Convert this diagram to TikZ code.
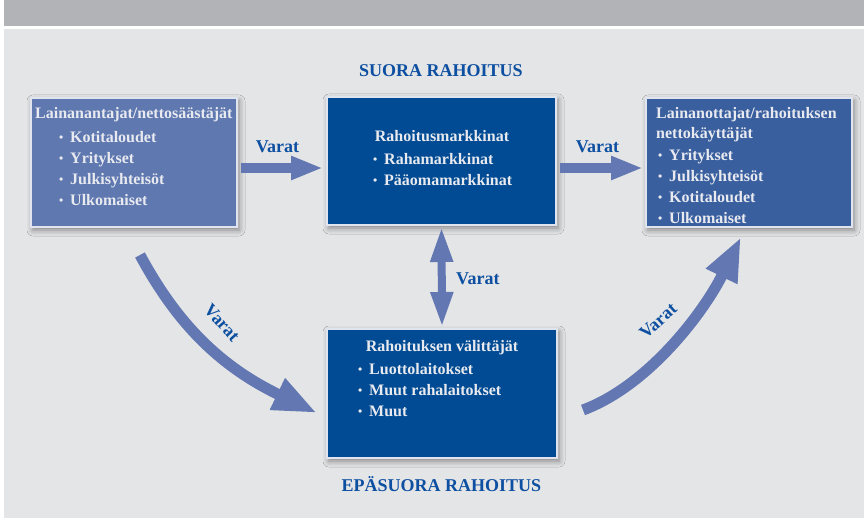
\documentclass[tikz,border=0pt]{standalone}
\usepackage{fontspec}
\setmainfont{Liberation Serif}
\usetikzlibrary{arrows.meta, positioning, shadows.blur}

\definecolor{bandgray}{RGB}{178,179,183}
\definecolor{panelgray}{RGB}{228,229,231}
\definecolor{lendblue}{RGB}{95,120,176}
\definecolor{mktblue}{RGB}{0,75,147}
\definecolor{borrblue}{RGB}{58,95,159}
\definecolor{flowblue}{RGB}{99,120,178}
\definecolor{capblue}{RGB}{13,79,160}
\definecolor{boxtext}{RGB}{232,234,240}

\newcommand{\bul}{\makebox[11pt][l]{\raisebox{1pt}{\fontsize{12}{12}\selectfont\textbullet}}}

\begin{document}
\begin{tikzpicture}[x=1pt, y=-1pt,
            box/.style={draw=white!80!lendblue, line width=1.5pt, inner sep=0pt, outer sep=0pt,
                blur shadow={shadow xshift=2pt, shadow yshift=-3pt, shadow blur radius=6pt, shadow opacity=45}},
            txt/.style={text=boxtext, font=\fontsize{16}{21}\selectfont\bfseries, inner sep=0pt, anchor=base west},
            varat/.style={text=capblue, font=\fontsize{18}{20}\selectfont\bfseries, inner sep=0pt},
            heading/.style={text=capblue, font=\fontsize{18}{20}\selectfont\bfseries, inner sep=0pt, anchor=base},
            flow/.style={draw=flowblue, line width=10pt, -{Triangle[length=32pt, width=22pt]}},
            bigflow/.style={draw=flowblue, line width=11pt, -{Triangle[length=44pt, width=32pt]}},
            dflow/.style={draw=flowblue, line width=8pt,
                {Triangle[length=35pt, width=21pt]}-{Triangle[length=35pt, width=21pt]}}
        ]
            \useasboundingbox (0,0) rectangle (864,518);

            % Background
            \fill[white] (0,0) rectangle (864,518);
            \fill[bandgray] (3.5,0) rectangle (864,26);
            \fill[panelgray] (3.5,29) rectangle (864,518);

            % Boxes
            \node[box, fill=lendblue, minimum width=206pt, minimum height=129pt] (lend) at (134,162.5) {};
            \node[box, fill=mktblue, minimum width=229pt, minimum height=128pt] (mkt) at (441.5,161) {};
            \node[box, fill=borrblue, minimum width=206pt, minimum height=129pt] (borr) at (749,162.5) {};
            \node[box, fill=mktblue, minimum width=230pt, minimum height=129pt] (inter) at (442,393.5) {};

            % Headings
            \node[heading] (direct) at (441,76.5) {SUORA RAHOITUS};
            \node[heading] (indirect) at (441.5,491) {EPÄSUORA RAHOITUS};

            % Lenders
            \node[txt] (lendtitle) at (35,119) {Lainanantajat/nettosäästäjät};
            \foreach \w [count=\i] in {Kotitaloudet, Yritykset, Julkisyhteisöt, Ulkomaiset}
                \node[txt] (lend\i) at (59,{143+21*(\i-1)}) {\bul\w};

            % Markets
            \node[txt, anchor=base] (mkttitle) at (442,142) {Rahoitusmarkkinat};
            \foreach \w [count=\i] in {Rahamarkkinat, Pääomamarkkinat}
                \node[txt] (mkt\i) at (373,{165+21*(\i-1)}) {\bul\w};

            % Borrowers
            \node[txt] (borrtitle) at (656,119) {Lainanottajat/rahoituksen};
            \node[txt] (borrtitleb) at (656,138.5) {nettokäyttäjät};
            \foreach \w [count=\i] in {Yritykset, Julkisyhteisöt, Kotitaloudet, Ulkomaiset}
                \node[txt] (borr\i) at (658,{160.5+21*(\i-1)}) {\bul\w};

            % Intermediaries
            \node[txt, anchor=base] (intertitle) at (442,351) {Rahoituksen välittäjät};
            \foreach \w [count=\i] in {Luottolaitokset, Muut rahalaitokset, Muut}
                \node[txt] (inter\i) at (358,{374+21*(\i-1)}) {\bul\w};

            % Flows
            \draw[flow] ([shift={(4pt,-5.5pt)}]lend.east) -- ([shift={(-4pt,-7pt)}]mkt.west);
            \draw[flow] ([shift={(4pt,-7pt)}]mkt.east) -- ([shift={(-3pt,-5.5pt)}]borr.west);
            \draw[dflow] ([yshift=-2pt]mkt.south) -- ([yshift=2pt]inter.north);
            \draw[bigflow] ([shift={(6pt,-28pt)}]lend.south) .. controls +(35,65) and +(-100,-48) .. ([shift={(-10pt,-19.5pt)}]inter.west);
            \draw[bigflow] ([shift={(26pt,-16.5pt)}]inter.east) .. controls +(67,-25) and +(-36,73) .. ([shift={(-8pt,-10pt)}]borr.south);

            % Flow labels
            \node[varat, anchor=base] (varat1) at (277.5,152.5) {Varat};
            \node[varat, anchor=base] (varat2) at (597.5,152.5) {Varat};
            \node[varat, anchor=base west] (varat3) at (456,285) {Varat};
            \node[varat, rotate=-48] (varat4) at (222,323) {Varat};
            \node[varat, rotate=42] (varat5) at (658,321) {Varat};
        \end{tikzpicture}
\end{document}
